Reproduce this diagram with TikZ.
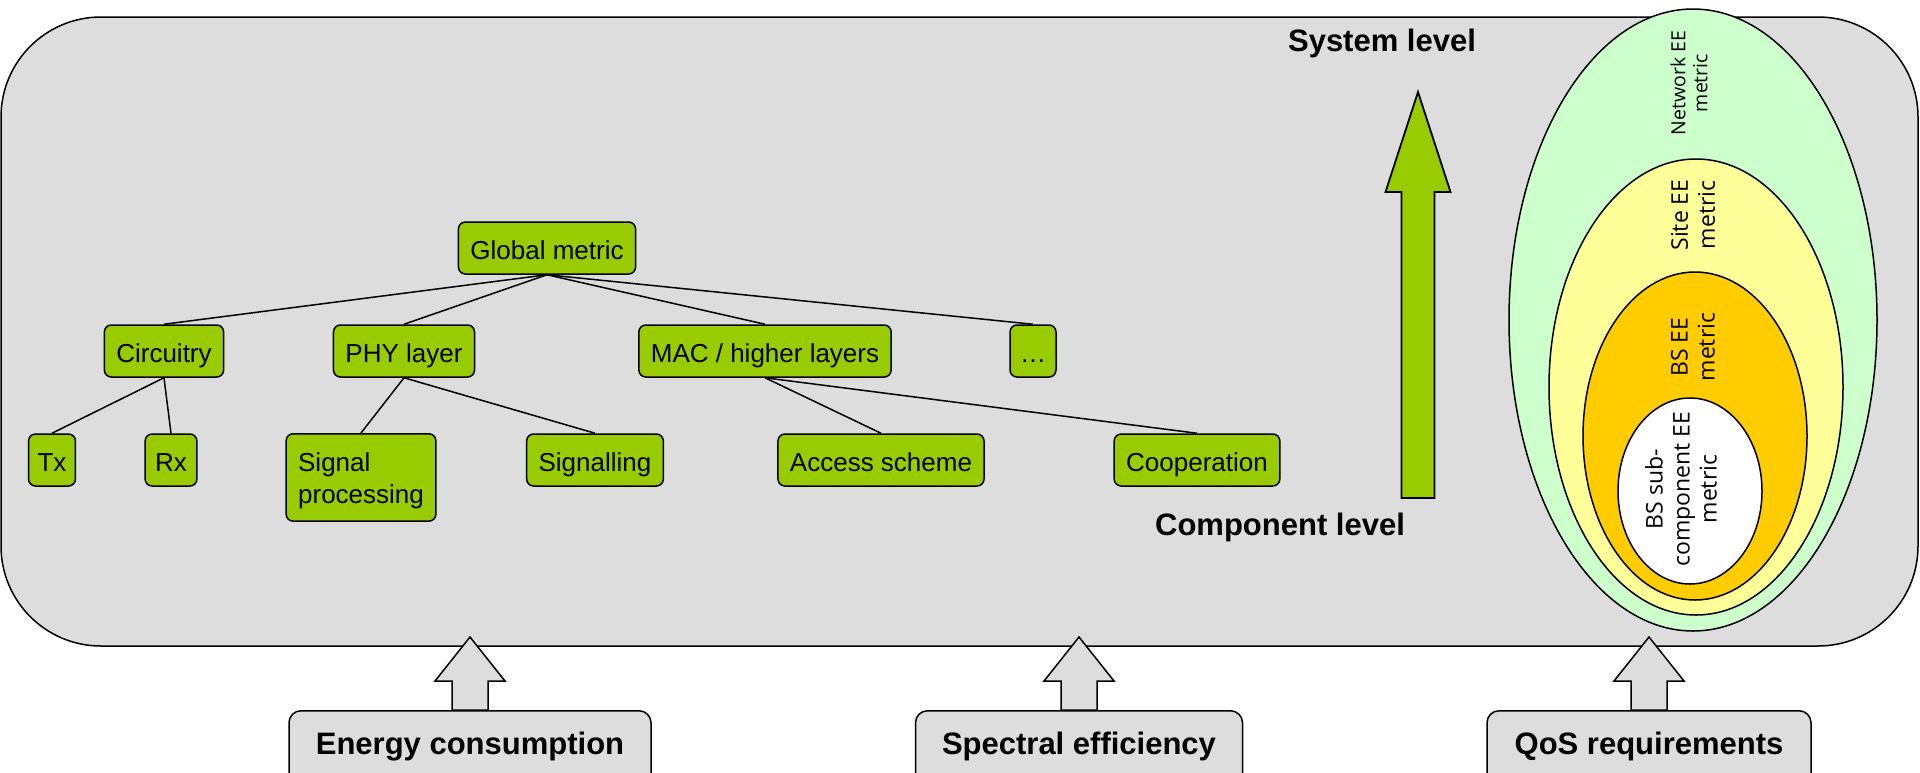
\documentclass[tikz,border=0pt]{standalone}
\usepackage{fontspec}
\setmainfont{Liberation Sans}
\newfontfamily\ellfont{Open Sans}
\usepackage{xcolor}
\usepackage{tikz}
\usetikzlibrary{calc}
\usetikzlibrary{shapes,arrows,positioning}

\definecolor{leafgreen}{HTML}{99CC00}
\definecolor{panelgray}{HTML}{DDDDDD}
\definecolor{netgreen}{HTML}{CCFFCC}
\definecolor{siteyellow}{HTML}{FFFF99}
\definecolor{bsorange}{HTML}{FFCC00}

\tikzset{
  metricbase/.style={draw,line width=1.5pt,rounded corners=7pt,fill=leafgreen,
    font=\fontsize{26}{32}\selectfont,inner xsep=12pt,minimum height=52pt,align=left},
  metricbox/.style={metricbase,text height=25pt,text depth=3pt},
  inputbox/.style={draw,line width=1.5pt,rounded corners=12pt,fill=panelgray,anchor=north,
    font=\fontsize{31}{36}\selectfont\bfseries,text height=22pt,text depth=40pt,inner ysep=22pt,inner xsep=0pt},
  levellabel/.style={font=\fontsize{31}{36}\selectfont\bfseries},
  eelabel/.style={font=\ellfont\fontsize{23}{27}\selectfont,rotate=90,align=center},
  treeline/.style={line width=1.5pt},
  ring/.style={draw,line width=1.5pt}
}

% block arrow: style, base point, length, head length, head half width, shaft half width
\newcommand{\fatarrow}[6]{%
  \draw[#1] #2 ++(-#6,0) -- ++(0,-#3+#4) -- ++(-#5+#6,0) -- ++(#5,-#4)
    -- ++(#5,#4) -- ++(-#5+#6,0) -- ++(0,#3-#4) -- cycle;}

\begin{document}
\begin{tikzpicture}[x=1pt,y=-1pt]
	\useasboundingbox (0,0) rectangle (1920,772);
	\clip (0,0) rectangle (1920,772);
	\draw[line width=1.5pt,fill=panelgray,rounded corners=100pt] (1,17) rectangle (1918,646);

	% tree of metrics
	\node[metricbox] (global) at (547,248) {Global metric};
	\node[metricbox] (circ) at (164,351) {Circuitry};
	\node[metricbox] (phy) at (404,351) {PHY layer};
	\node[metricbox] (mac) at (765,351) {MAC / higher layers};
	\node[metricbox,inner xsep=10pt] (more) at (1033,351) {…};
	\node[metricbox,inner xsep=9pt] (tx) at (52,460) {Tx};
	\node[metricbox,inner xsep=10pt] (rx) at (171,460) {Rx};
	\node[metricbase,anchor=north,inner ysep=12.5pt] (sigproc) at (361,433) {\rule{0pt}{25pt}Signal\\processing};
	\node[metricbox] (signalling) at (595,460) {Signalling};
	\node[metricbox] (access) at (881,460) {Access scheme};
	\node[metricbox] (coop) at (1197,460) {Cooperation};
	\foreach \c in {circ,phy,mac,more}
		\draw[treeline] (global.south) -- (\c.north);
	\foreach \c in {tx,rx}
		\draw[treeline] (circ.south) -- (\c.north);
	\foreach \c in {sigproc,signalling}
		\draw[treeline] (phy.south) -- (\c.north);
	\foreach \c in {access,coop}
		\draw[treeline] (mac.south) -- (\c.north);

	% levels
	\node[levellabel] (syslevel) at (1382,43) {System level};
	\node[levellabel] (complevel) at (1280,527) {Component level};
	\coordinate (levelbase) at (1418,498);
	\fatarrow{line width=1.8pt,fill=leafgreen}{(levelbase)}{406}{100}{32.5}{16.5}

	% nested EE metrics
	\draw[ring,fill=netgreen] (1693,320) ellipse [x radius=184pt,y radius=311pt];
	\draw[ring,fill=siteyellow] (1696,387) ellipse [x radius=147pt,y radius=228pt];
	\draw[ring,fill=bsorange] (1695,436) ellipse [x radius=112pt,y radius=164pt];
	\draw[ring,fill=white] (1690,491) ellipse [x radius=72pt,y radius=93pt];
	\node[eelabel,font=\ellfont\fontsize{19.5}{22}\selectfont] (netlbl) at (1689,83) {Network EE\\metric};
	\node[eelabel] (sitelbl) at (1693,215) {Site EE\\metric};
	\node[eelabel] (bslbl) at (1693,347) {BS EE\\metric};
	\node[eelabel] (sublbl) at (1681,489) {BS sub-\\component EE\\metric};

	% inputs
	\node[inputbox,minimum width=362pt] (energy) at (470,710) {Energy consumption};
	\node[inputbox,minimum width=327pt] (spectral) at (1079,710) {Spectral efficiency};
	\node[inputbox,minimum width=324pt] (qos) at (1649,710) {QoS requirements};
	\foreach \b in {energy,spectral,qos}{
		\fatarrow{line width=1.5pt,fill=panelgray}{(\b.north)}{73}{44}{35}{18}
	}
\end{tikzpicture}
\end{document}
